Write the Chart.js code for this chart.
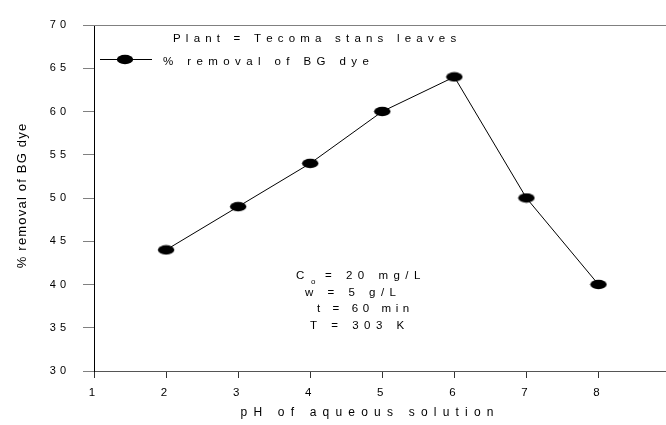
<!DOCTYPE html>
<html>
<head>
<meta charset="utf-8">
<script src="https://cdn.jsdelivr.net/npm/chart.js@4/dist/chart.umd.min.js"></script>
<style>
  html, body { margin: 0; padding: 0; background: #fff; }
  #wrap { width: 666px; height: 425px; position: relative; }
</style>
</head>
<body>
<div id="wrap"><canvas id="chart"></canvas></div>
<script>
// pH study, Tecoma stans leaves
const phValues = [2, 3, 4, 5, 6, 7, 8];
const removalPct = [44, 49, 54, 60, 64, 50, 40];
const xTickValues = [1, 2, 3, 4, 5, 6, 7, 8];
const yTickValues = [30, 35, 40, 45, 50, 55, 60, 65, 70];
const conditions = [
  { label: 'C', sub: 'o', rest: '= 20 mg/L' },
  { label: 'w = 5 g/L' },
  { label: 't = 60 min' },
  { label: 'T = 303 K' }
];

const FONT = '"Liberation Sans", Arial, sans-serif';

// filled ellipse used as the marker
function makeMarker() {
  const c = document.createElement('canvas');
  c.width = 18; c.height = 11;
  const g = c.getContext('2d');
  g.fillStyle = '#000';
  g.beginPath();
  g.ellipse(9, 5.5, 8.2, 4.7, 0, 0, Math.PI * 2);
  g.fill();
  return c;
}
const marker = makeMarker();

// draws text one glyph at a time with extra tracking
function spaced(ctx, text, x, y, size, spacing, align) {
  ctx.font = size + 'px ' + FONT;
  let total = 0;
  for (const ch of text) total += ctx.measureText(ch).width + spacing;
  total -= spacing;
  let cx = align === 'center' ? x - total / 2 : x;
  ctx.textAlign = 'left';
  for (const ch of text) {
    ctx.fillText(ch, cx, y);
    cx += ctx.measureText(ch).width + spacing;
  }
  return cx;
}

const textPlugin = {
  id: 'textPlugin',
  beforeDraw(chart) {
    // tick labels are tracked a little wider
    chart.ctx.letterSpacing = '4px';
  },
  afterDraw(chart) {
    const ctx = chart.ctx;
    const a = chart.chartArea;
    ctx.save();
    ctx.letterSpacing = '0px';

    // top frame line, and the x axis line run out to the edge
    ctx.lineWidth = 1;
    ctx.strokeStyle = '#808080';
    ctx.beginPath();
    ctx.moveTo(a.left, Math.round(a.top) + 0.5);
    ctx.lineTo(chart.width, Math.round(a.top) + 0.5);
    ctx.stroke();
    ctx.strokeStyle = '#555';
    ctx.beginPath();
    ctx.moveTo(a.right - 1, Math.round(a.bottom) + 0.5);
    ctx.lineTo(chart.width, Math.round(a.bottom) + 0.5);
    ctx.stroke();

    ctx.fillStyle = '#000';
    ctx.textBaseline = 'middle';

    spaced(ctx, 'Plant = Tecoma stans leaves', 173, 39, 11.5, 5.2, 'left');

    // legend entry
    ctx.strokeStyle = '#000';
    ctx.beginPath();
    ctx.moveTo(100, 59.5);
    ctx.lineTo(152, 59.5);
    ctx.stroke();
    ctx.drawImage(marker, 125 - 9, 59.5 - 5.5);
    spaced(ctx, '% removal of BG dye', 163, 62, 11.5, 5.4, 'left');

    // experimental conditions
    const rows = [
      { x: 296, y: 276, s: 5.5 },
      { x: 305, y: 293, s: 5.5 },
      { x: 317, y: 309, s: 4.6 },
      { x: 310, y: 326, s: 5.5 }
    ];
    conditions.forEach((c, i) => {
      const r = rows[i];
      spaced(ctx, c.label, r.x, r.y, 11.5, r.s, 'left');
      if (c.sub) {
        spaced(ctx, c.sub, 311, r.y + 6, 8, 0, 'left');
        spaced(ctx, c.rest, 325, r.y, 11.5, r.s, 'left');
      }
    });

    // axis titles
    spaced(ctx, 'pH of aqueous solution', 367, 413, 12, 6.2, 'center');
    ctx.save();
    ctx.translate(22, 196);
    ctx.rotate(-Math.PI / 2);
    spaced(ctx, '% removal of BG dye', 0, 0, 13, 1.2, 'center');
    ctx.restore();

    ctx.restore();
  }
};

new Chart(document.getElementById('chart'), {
  type: 'line',
  data: {
    datasets: [{
      label: '% removal of BG dye',
      data: phValues.map((x, i) => ({ x: x, y: removalPct[i] })),
      borderColor: '#000',
      borderWidth: 1,
      tension: 0,
      pointStyle: marker,
      pointRadius: 6,
      pointHoverRadius: 6,
      pointBackgroundColor: '#000'
    }]
  },
  options: {
    responsive: true,
    maintainAspectRatio: false,
    animation: false,
    events: [],
    layout: { padding: { top: 25, left: 0, right: 0, bottom: 0 } },
    plugins: {
      legend: { display: false },
      tooltip: { enabled: false }
    },
    scales: {
      x: {
        type: 'linear',
        min: 1,
        max: 8.84,
        afterBuildTicks: s => { s.ticks = xTickValues.map(v => ({ value: v })); },
        afterFit: s => { s.height = 54; s.paddingLeft = 0; s.paddingRight = 0; },
        ticks: {
          color: '#000',
          font: { family: FONT, size: 11.5 },
          padding: 8,
          maxRotation: 0,
          callback: v => String(v)
        },
        grid: { drawOnChartArea: false, tickLength: 7, color: '#333' },
        border: { color: '#555', width: 1 }
      },
      y: {
        min: 30,
        max: 70,
        afterBuildTicks: s => { s.ticks = yTickValues.map(v => ({ value: v })); },
        afterFit: s => { s.width = 94; s.paddingTop = 0; s.paddingBottom = 0; },
        ticks: {
          color: '#000',
          font: { family: FONT, size: 11 },
          padding: 13,
          callback: v => String(v)
        },
        grid: { drawOnChartArea: false, tickLength: 11, color: '#808080' },
        border: { color: '#000', width: 1 }
      }
    }
  },
  plugins: [textPlugin]
});
</script>
</body>
</html>
